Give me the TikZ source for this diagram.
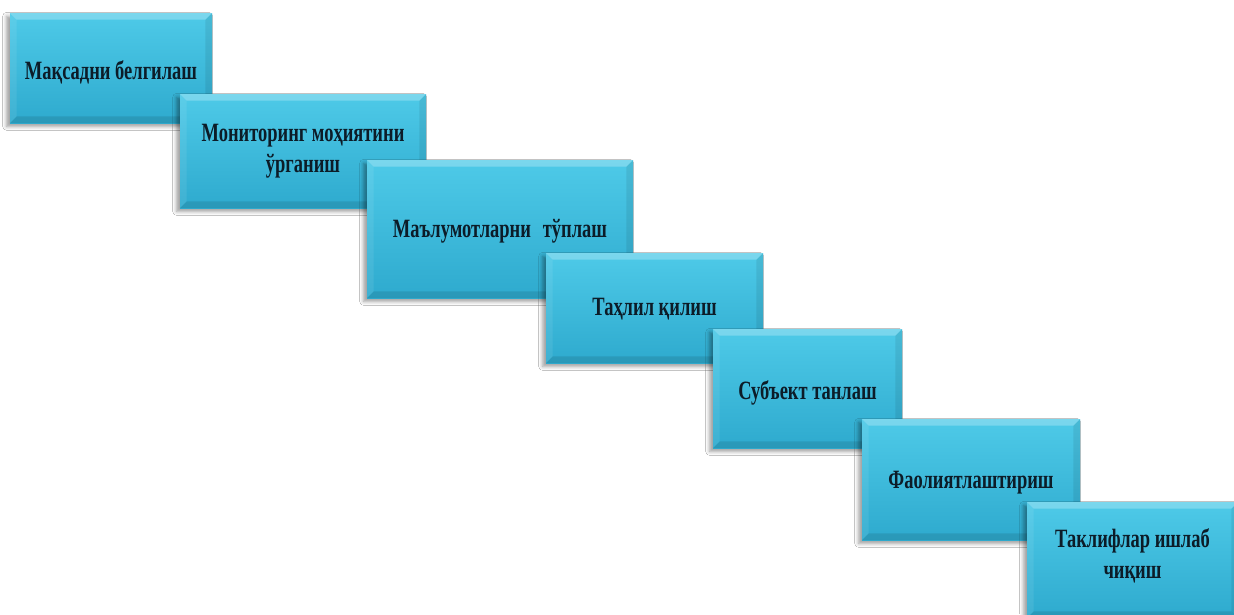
\documentclass[tikz,border=0pt]{standalone}
\usepackage{fontspec}
\newfontfamily\boxfont{Liberation Serif}[FakeStretch=0.7]
\usetikzlibrary{shadows.blur}
\definecolor{boxtop}{RGB}{78,202,232}
\definecolor{boxbot}{RGB}{46,170,206}
\definecolor{boxtext}{RGB}{12,28,40}
\tikzset{
  stepbox/.style={anchor=north west, inner sep=0pt, outer sep=0pt,
    top color=boxtop, bottom color=boxbot, draw=none,
    blur shadow={shadow xshift=-2.5pt, shadow yshift=-2.5pt, shadow blur radius=3pt, shadow opacity=40},
    path picture={
      \fill[white,opacity=.25] (path picture bounding box.north west) -- (path picture bounding box.north east)
        -- ([shift={(-5pt,-5pt)}]path picture bounding box.north east) -- ([shift={(5pt,-5pt)}]path picture bounding box.north west) -- cycle;
      \fill[white,opacity=.08] (path picture bounding box.north west) -- ([shift={(5pt,-5pt)}]path picture bounding box.north west)
        -- ([shift={(5pt,5pt)}]path picture bounding box.south west) -- (path picture bounding box.south west) -- cycle;
      \fill[black,opacity=.08] (path picture bounding box.north east) -- ([shift={(-5pt,-5pt)}]path picture bounding box.north east)
        -- ([shift={(-5pt,5pt)}]path picture bounding box.south east) -- (path picture bounding box.south east) -- cycle;
      \fill[black,opacity=.1] (path picture bounding box.south west) -- (path picture bounding box.south east)
        -- ([shift={(-5pt,5pt)}]path picture bounding box.south east) -- ([shift={(5pt,5pt)}]path picture bounding box.south west) -- cycle;
    }},
  steplabel/.style={text=boxtext, align=center, font=\boxfont\bfseries\fontsize{19.8}{23}\selectfont}
}
\begin{document}
\begin{tikzpicture}[x=0.75pt,y=-0.75pt]
\useasboundingbox (0,0) rectangle (1234,614);
\fill[white] (0,0) rectangle (1234,614);
\node[stepbox, minimum width={202*0.75pt}, minimum height={110*0.75pt}] (s1) at (10,13) {};
\node[steplabel] (t1) at ([yshift=-3pt]s1.center) {Мақсадни белгилаш};
\node[stepbox, minimum width={246*0.75pt}, minimum height={114*0.75pt}] (s2) at (180,94) {};
\node[steplabel] (t2) at ([yshift=0pt]s2.center) {Мониторинг моҳиятини\\ўрганиш};
\node[stepbox, minimum width={266*0.75pt}, minimum height={138*0.75pt}] (s3) at (367,160) {};
\node[steplabel] (t3) at ([yshift=-1.5pt]s3.center) {Маълумотларни\hspace{0.45em}тўплаш};
\node[stepbox, minimum width={217*0.75pt}, minimum height={110*0.75pt}] (s4) at (546,253) {};
\node[steplabel] (t4) at ([yshift=-1pt]s4.center) {Таҳлил қилиш};
\node[stepbox, minimum width={189*0.75pt}, minimum height={119*0.75pt}] (s5) at (713,329) {};
\node[steplabel] (t5) at ([yshift=-3pt]s5.center) {Субъект танлаш};
\node[stepbox, minimum width={218*0.75pt}, minimum height={121*0.75pt}] (s6) at (862,419) {};
\node[steplabel] (t6) at ([yshift=-2pt]s6.center) {Фаолиятлаштириш};
\node[stepbox, minimum width={211*0.75pt}, minimum height={116*0.75pt}] (s7) at (1027,502) {};
\node[steplabel] (t7) at ([yshift=3pt]s7.center) {Таклифлар ишлаб\\чиқиш};
\end{tikzpicture}
\end{document}
